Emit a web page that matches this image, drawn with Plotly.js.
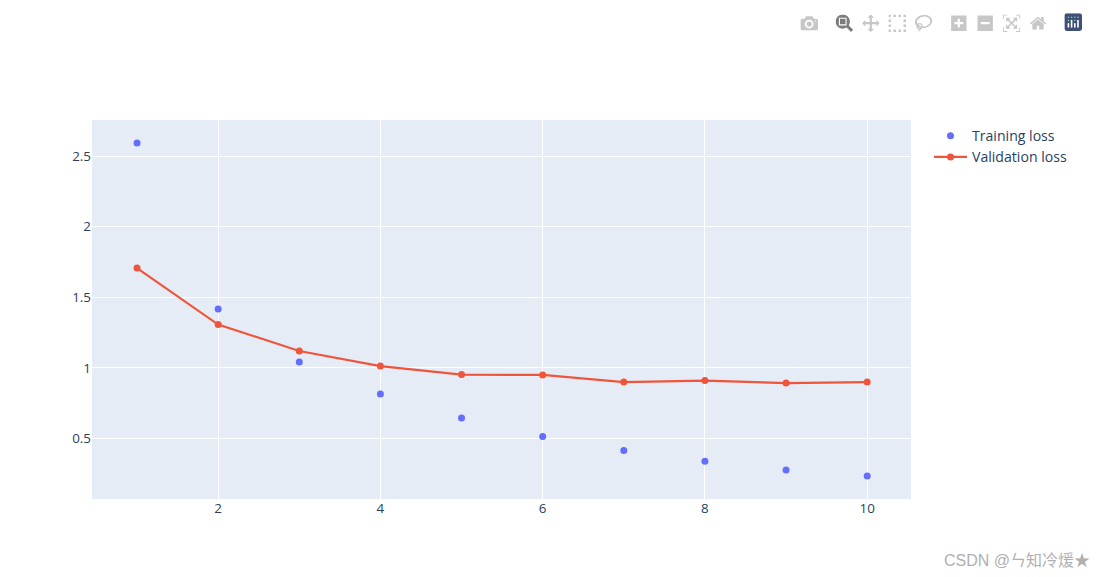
<!DOCTYPE html>
<html><head><meta charset="utf-8">
<script src="https://cdn.plot.ly/plotly-3.0.1.min.js"></script>
<style>html,body{margin:0;padding:0;background:#fff}
#chart .modebar{transform:translate(-16.6px,8px) scale(1.1);transform-origin:100% 0}
#chart .modebar-btn--logo svg rect,#chart .modebar-btn--logo .cls-0{fill:#3f4f75 !important}
#chart .modebar-btn--logo svg circle,#chart .modebar-btn--logo .cls-1{fill:#80cfbe !important}
#chart .modebar-btn--logo svg path,#chart .modebar-btn--logo .cls-2{fill:#fff !important}
</style></head>
<body><div id="chart" style="width:1105px;height:577px"></div>
<script>
const epochs = [1,2,3,4,5,6,7,8,9,10];
const trainingLoss = [2.592,1.417,1.042,0.815,0.645,0.514,0.415,0.34,0.277,0.235];
const validationLoss = [1.707,1.307,1.12,1.013,0.953,0.95,0.9,0.91,0.893,0.9];
const fontFamily = '"Open Sans", verdana, arial, sans-serif';
const data = [
 {x:epochs,y:trainingLoss,mode:'markers',name:'Training loss',marker:{color:'#636efa',size:7}},
 {x:epochs,y:validationLoss,mode:'lines+markers',name:'Validation loss',line:{color:'#EF553B',width:2.2},marker:{color:'#EF553B',size:7}}
];
const layout = {
 width:1105,height:577,
 margin:{l:92,r:193.5,t:120,b:78,pad:0},
 paper_bgcolor:'#fff',plot_bgcolor:'#E5ECF6',
 font:{family:fontFamily,size:13.4,color:'#2a3f5f'},
 hovermode:'closest',
 xaxis:{range:[0.445,10.54],tickmode:'array',tickvals:[2,4,6,8,10],ticktext:['2','4','6','8','10'],gridcolor:'#fff',gridwidth:1,zeroline:false,showline:false,ticks:''},
 yaxis:{range:[0.072,2.755],tickmode:'array',tickvals:[0.5,1,1.5,2,2.5],ticktext:['0.5','1','1.5','2','2.5'],gridcolor:'#fff',gridwidth:1,zeroline:false,showline:false,ticks:''},
 legend:{x:1.022,y:1.0001,xanchor:'left',yanchor:'top',bgcolor:'rgba(0,0,0,0)',itemwidth:33,font:{size:14.1}},
 annotations:[{xref:'paper',yref:'paper',x:1.2205,y:-0.162,xanchor:'right',yanchor:'middle',showarrow:false,
  text:'CSDN @ㄣ知冷煖★',font:{family:'"Liberation Sans","Noto Sans CJK SC",sans-serif',size:16,color:'#b0b0b0'}}]
};
Plotly.newPlot('chart',data,layout,{displayModeBar:true,displaylogo:true,responsive:false});
</script></body></html>
